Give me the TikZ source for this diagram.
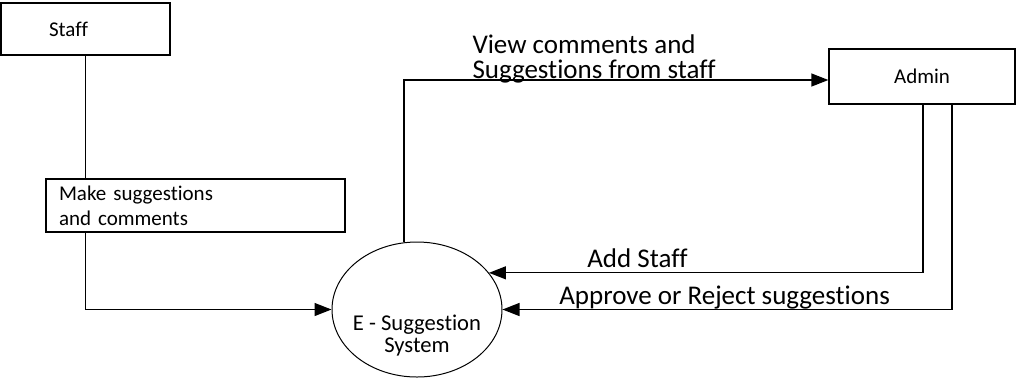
\documentclass[tikz,border=0pt]{standalone}
\usepackage{fontspec}
\setmainfont{Carlito}[Ligatures={NoCommon,NoContextual}]
\usetikzlibrary{positioning,calc,shapes.geometric,arrows.meta}
\definecolor{dfdLine}{HTML}{000000}
\definecolor{dfdText}{HTML}{000000}
\tikzset{
  entity box/.style={
    rectangle, draw=dfdLine, line width=0.65pt,
    inner ysep=0pt, align=left, text=dfdText,
    font=\fontsize{10.5}{12.5}\selectfont,
  },
  process oval/.style={
    ellipse, draw=dfdLine, line width=0.5pt,
    minimum width=85pt, minimum height=67.5pt, inner sep=0pt,
  },
  flow/.style={
    draw=dfdLine, line width=0.65pt,
    -{Triangle[length=8.5pt,width=6.5pt]},
  },
  flow label/.style={
    inner sep=0pt, align=left, text=dfdText,
    font=\fontsize{13.5}{12.5}\selectfont,
  },
}

\begin{document}
\begin{tikzpicture}[x=0.5pt, y=-0.5pt]
\useasboundingbox (0,0) rectangle (1017,377);

%% Entities ==========================================================
\node[entity box, text width=36.5pt, inner xsep=24pt, minimum height=26pt]
  (staff) at (85.5,29) {Staff};
\node[entity box, text width=136.5pt, inner xsep=6.5pt, minimum height=26.5pt]
  (make) at (195.5,205.5) {Make suggestions\\and comments};
\node[entity box, text width=93pt, inner xsep=0pt, align=center, minimum height=27.5pt]
  (admin) at (922,76.5) {Admin};

%% Process ===========================================================
\node[process oval] (sys) at (417,309.5) {};
\node[inner sep=0pt, align=center, text=dfdText, font=\fontsize{11.3}{11}\selectfont]
  (sysname) at ([yshift=-13pt]sys.center) {E - Suggestion\\System};

%% Flows =============================================================
\draw[line width=0.65pt, draw=dfdLine] (staff.south) -- (make.north -| staff.south);
\draw[flow] (make.south -| staff.south) |- (sys.west);
\draw[flow] (sys.101) |- ([yshift=-1.75pt]admin.west)
  node[flow label, pos=0.58, anchor=south west, yshift=-1.8pt] (viewlbl)
  {View comments and\\Suggestions from staff};
\draw[flow] ([xshift=0.5pt]admin.south) |- (sys.27)
  node[flow label, pos=0.829, anchor=base, yshift=2.5pt] (addlbl) {Add Staff};
\draw[flow] ([xshift=15pt]admin.south) |- (sys.east)
  node[flow label, pos=0.753, anchor=base, yshift=2.5pt] (approvelbl)
  {Approve or Reject suggestions};

\end{tikzpicture}
\end{document}
